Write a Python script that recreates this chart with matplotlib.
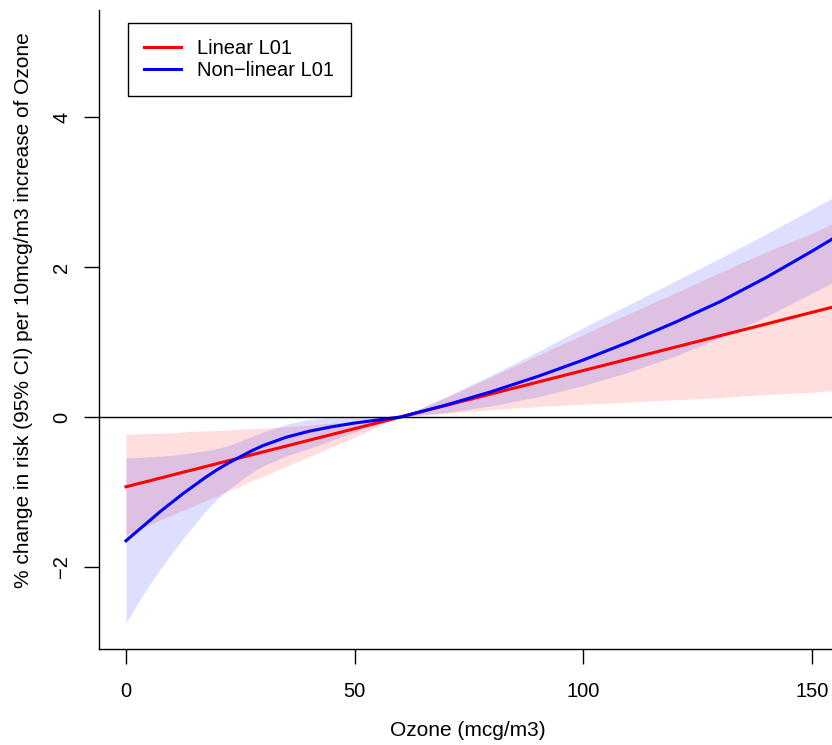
import matplotlib
matplotlib.use('Agg')
import matplotlib.pyplot as plt

plt.rcParams['font.family'] = ['Liberation Sans', 'DejaVu Sans']

# ozone grid (mcg/m3)
ozone = [0, 2.5, 5, 7.5, 10, 12.5, 15, 17.5, 20, 22.5, 25, 27.5, 30,
         35, 40, 45, 50, 55, 60,
         70, 80, 90, 100, 110, 120, 130, 140, 150, 156]

# linear L01: estimate and 95% CI
lin_est = [-0.930, -0.891, -0.853, -0.814, -0.775, -0.736, -0.698, -0.659, -0.620, -0.581, -0.543, -0.504, -0.465,
           -0.388, -0.310, -0.233, -0.155, -0.078, 0.00,
           0.155, 0.310, 0.465, 0.620, 0.775, 0.930, 1.085, 1.240, 1.395, 1.488]
lin_hi = [-0.23, -0.225, -0.22, -0.215, -0.21, -0.20, -0.19, -0.185, -0.18, -0.17, -0.16, -0.155, -0.15,
          -0.13, -0.11, -0.08, -0.06, -0.03, 0.00,
          0.26, 0.54, 0.82, 1.10, 1.38, 1.65, 1.93, 2.20, 2.45, 2.62]
lin_lo = [-1.57, -1.50, -1.44, -1.37, -1.31, -1.24, -1.18, -1.11, -1.05, -0.98, -0.92, -0.85, -0.79,
          -0.66, -0.53, -0.40, -0.27, -0.13, 0.00,
          0.05, 0.10, 0.14, 0.17, 0.20, 0.23, 0.26, 0.30, 0.33, 0.36]

# non-linear L01: estimate and 95% CI
nl_est = [-1.65, -1.52, -1.39, -1.26, -1.14, -1.02, -0.91, -0.80, -0.70, -0.61, -0.53, -0.45, -0.38,
          -0.27, -0.19, -0.13, -0.08, -0.04, 0.00,
          0.16, 0.34, 0.54, 0.76, 1.00, 1.26, 1.54, 1.86, 2.21, 2.43]
nl_hi = [-0.54, -0.54, -0.53, -0.52, -0.51, -0.49, -0.47, -0.45, -0.42, -0.38, -0.32, -0.26, -0.20,
         -0.10, -0.03, -0.01, -0.01, -0.005, 0.00,
         0.27, 0.56, 0.87, 1.19, 1.50, 1.81, 2.12, 2.44, 2.77, 2.97]
nl_lo = [-2.75, -2.49, -2.25, -2.03, -1.82, -1.62, -1.43, -1.25, -1.09, -0.96, -0.85, -0.74, -0.65,
         -0.52, -0.42, -0.31, -0.20, -0.10, 0.00,
         0.06, 0.15, 0.27, 0.42, 0.60, 0.81, 1.06, 1.34, 1.65, 1.84]

W, H = 832, 745
fig = plt.figure(figsize=(W / 100, H / 100), dpi=100)
ax = fig.add_axes([99 / W, 96 / H, (837 - 99) / W, (649 - 10) / H])

ax.plot(ozone, lin_est, color='red', lw=2.2, label='Linear L01')
ax.plot(ozone, nl_est, color='blue', lw=2.2, label='Non\u2212linear L01')
ax.fill_between(ozone, lin_lo, lin_hi, color='red', alpha=0.13, lw=0)
ax.fill_between(ozone, nl_lo, nl_hi, color='blue', alpha=0.13, lw=0)
ax.axhline(0, color='black', lw=1.0)

ax.set_xlim(-5.9, 155.5)
ax.set_ylim(-3.093, 5.427)
ax.set_xticks([0, 50, 100, 150])
ax.set_yticks([-2, 0, 2, 4])
ax.spines['top'].set_visible(False)
ax.spines['right'].set_visible(False)
for s in ['left', 'bottom']:
    ax.spines[s].set_linewidth(1.0)
ax.tick_params(direction='out', length=10.8, width=1.0, labelsize=14.5)
ax.tick_params(axis='x', pad=13)
ax.tick_params(axis='y', pad=9)
for t in ax.get_yticklabels():
    t.set_rotation(90)
    t.set_va('center')

fig.text(468 / W, 1 - 731 / H, 'Ozone (mcg/m3)', ha='center', va='center', fontsize=15)
fig.text(24 / W, 1 - 310 / H, '% change in risk (95% CI) per 10mcg/m3 increase of Ozone',
         ha='center', va='center', rotation=90, fontsize=15)

leg = ax.legend(loc='upper left', bbox_to_anchor=(128 / W, 1 - 23 / H),
                bbox_transform=fig.transFigure, borderaxespad=0, fontsize=14.5,
                fancybox=False, edgecolor='black', framealpha=1,
                handlelength=1.85, handletextpad=0.8, borderpad=0.8, labelspacing=0.15)
leg.get_frame().set_linewidth(1.0)

fig.savefig('out.png', dpi=100)
